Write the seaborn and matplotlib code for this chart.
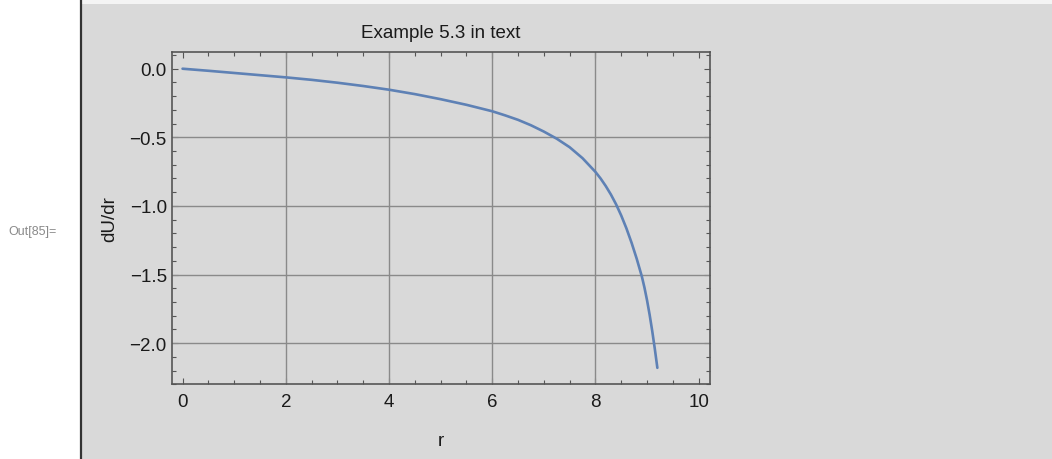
import matplotlib
matplotlib.use("Agg")
import matplotlib.pyplot as plt
from matplotlib.ticker import MultipleLocator
from matplotlib.patches import Rectangle
from matplotlib.lines import Line2D
import seaborn as sns
import pandas as pd

# Radial derivative of the potential, Example 5.3
r_values = [0.0, 0.5, 1.0, 1.5, 2.0, 2.5, 3.0, 3.5, 4.0, 4.5, 5.0, 5.5,
            6.0, 6.25, 6.5, 6.75, 7.0, 7.25, 7.5, 7.75, 8.0, 8.1, 8.2, 8.3,
            8.4, 8.5, 8.6, 8.7, 8.8, 8.9, 8.95, 9.0, 9.05, 9.1, 9.15, 9.2]
dudr_values = [0.0, -0.015, -0.031, -0.047, -0.063, -0.081, -0.102, -0.126,
               -0.153, -0.185, -0.222, -0.263, -0.31, -0.34, -0.3725,
               -0.412, -0.458, -0.51, -0.572, -0.652, -0.752, -0.80, -0.855,
               -0.917, -0.988, -1.07, -1.163, -1.268, -1.385, -1.515,
               -1.595, -1.6875, -1.7925, -1.91, -2.04, -2.18]

x_ticks = [0, 2, 4, 6, 8, 10]
y_ticks = [0.0, -0.5, -1.0, -1.5, -2.0]
x_grid = [2, 4, 6, 8]
y_grid = [-0.5, -1.0, -1.5, -2.0]

title_text = "Example 5.3 in text"
x_label = "r"
y_label = "dU/dr"
cell_label = "Out[85]="

sns.set_theme(style="ticks")
plt.rcParams["font.family"] = ["Liberation Sans", "DejaVu Sans"]
plt.rcParams["axes.unicode_minus"] = True

bg = "#d9d9d9"
frame_col = "#555555"
fig = plt.figure(figsize=(10.52, 4.6), dpi=100)
fig.patch.set_facecolor("white")

W, H = 1052, 460
# notebook cell background and bracket
fig.add_artist(Rectangle((82 / W, 0), 1 - 82 / W, (H - 5) / H,
                         transform=fig.transFigure, facecolor=bg,
                         edgecolor="none", zorder=0))
fig.add_artist(Rectangle((82 / W, (H - 5) / H), 1 - 82 / W, 5 / H,
                         transform=fig.transFigure, facecolor="#f4f4f4",
                         edgecolor="none", zorder=0))
fig.add_artist(Line2D([81 / W, 81 / W], [0, 1], transform=fig.transFigure,
                      color="#333333", linewidth=1.6, zorder=1))
fig.text(8 / W, 1 - 232 / H, cell_label, ha="left", va="center",
         fontsize=9, color="#8a8a8a")

ax = fig.add_axes([171.7 / W, 1 - 385.3 / H, (710 - 171.7) / W,
                   (385.3 - 52.7) / H])
ax.set_facecolor(bg)

df = pd.DataFrame({"r": r_values, "dUdr": dudr_values})
sns.lineplot(data=df, x="r", y="dUdr", ax=ax, color="#5e81b5",
             linewidth=1.9, zorder=3)

for gx in x_grid:
    ax.axvline(gx, color="#8a8a8a", linewidth=1.0, zorder=1)
for gy in y_grid:
    ax.axhline(gy, color="#8a8a8a", linewidth=1.0, zorder=1)

ax.set_xlim(-0.21, 10.22)
ax.set_ylim(-2.30, 0.124)
ax.set_xticks(x_ticks)
ax.set_yticks(y_ticks)
ax.set_xticklabels([f"{v}" for v in x_ticks])
ax.set_yticklabels([f"{v:.1f}".replace("-", "\u2212") for v in y_ticks])
ax.xaxis.set_minor_locator(MultipleLocator(0.5))
ax.yaxis.set_minor_locator(MultipleLocator(0.1))

ax.tick_params(which="both", direction="in", top=True, right=True,
               color=frame_col, width=0.8)
ax.tick_params(which="major", length=4.5, labelsize=13.5,
               labelcolor="#1a1a1a")
ax.tick_params(which="minor", length=2.6)
ax.tick_params(axis="x", which="major", pad=6)
ax.tick_params(axis="y", which="major", pad=3.5)

for s in ax.spines.values():
    s.set_color(frame_col)
    s.set_linewidth(1.2)
    s.set_visible(True)

ax.set_title(title_text, fontsize=13.5, color="#1a1a1a", pad=10.5)
ax.set_xlabel(x_label, fontsize=13.5, color="#1a1a1a", labelpad=16)
ax.set_ylabel(y_label, fontsize=13.5, color="#1a1a1a", labelpad=8)

fig.savefig("out.png", dpi=100, facecolor=fig.get_facecolor())
